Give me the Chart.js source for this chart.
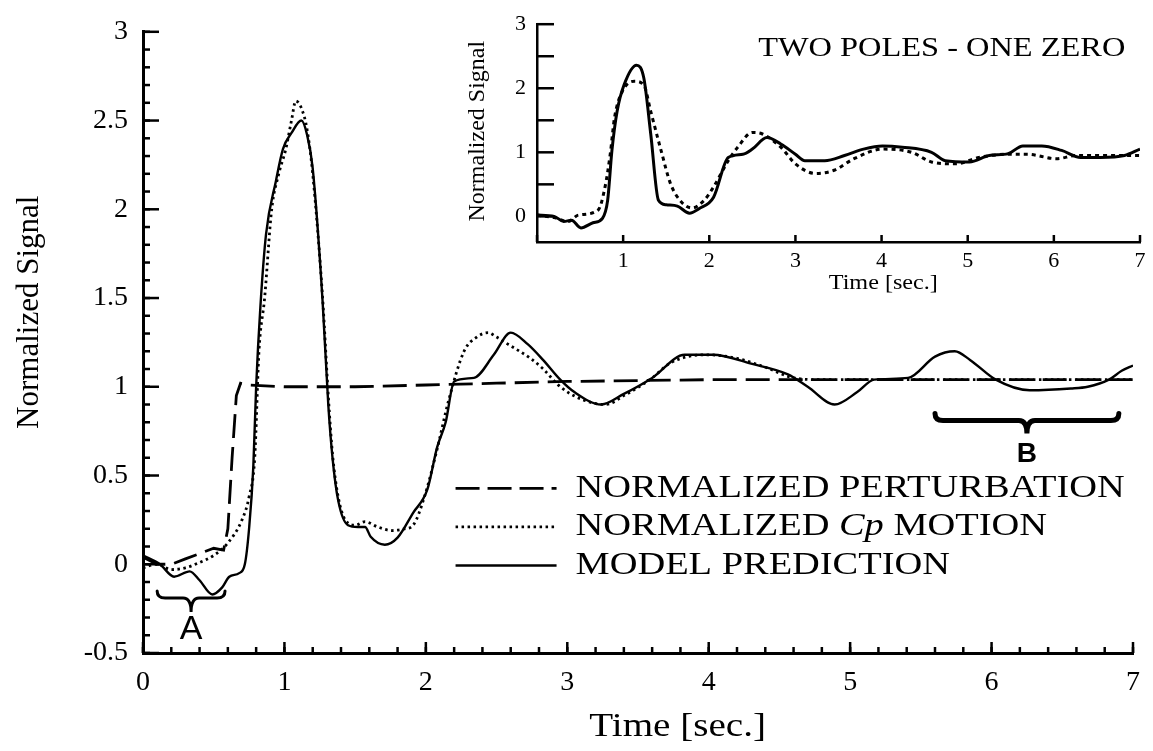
<!DOCTYPE html>
<html>
<head>
<meta charset="utf-8">
<title>Normalized Signal</title>
<script src="https://cdn.jsdelivr.net/npm/chart.js@4.4.0/dist/chart.umd.min.js"></script>
<style>
  html, body { margin: 0; padding: 0; background: #fff; }
  #wrap { position: relative; width: 1153px; height: 751px; }
  #mainChart { position: absolute; left: 0; top: 0; }
  #insetChart { position: absolute; left: 440px; top: 0; }
</style>
</head>
<body>
<div id="wrap">
  <canvas id="mainChart" width="1153" height="751"></canvas>
  <canvas id="insetChart" width="713" height="310"></canvas>
</div>
<script>
// ---- main plot: time [s] and normalized values ----
const perturbT = [0, 0.1, 0.2, 0.3, 0.4, 0.5, 0.57, 0.6, 0.63, 0.66, 0.69, 0.75, 1.0, 1.5, 2.0, 2.5, 3.0, 4.0, 5.0, 6.0, 7.0];
const perturbV = [0.04, 0.0, 0.0, 0.03, 0.06, 0.09, 0.08, 0.2, 0.6, 0.95, 1.02, 1.01, 1.0, 1.0, 1.01, 1.02, 1.03, 1.04, 1.04, 1.04, 1.04];

const cpT = [0, 0.1, 0.2, 0.3, 0.4, 0.5, 0.6, 0.7, 0.75, 0.79, 0.82, 0.86, 0.91, 0.96, 1.01, 1.05, 1.08, 1.12, 1.16, 1.2,
             1.27, 1.31, 1.34, 1.38, 1.43, 1.5, 1.57, 1.66, 1.76, 1.85, 1.91, 1.99, 2.08, 2.16, 2.27, 2.36, 2.44, 2.5, 2.58, 2.74,
             2.83, 2.95, 3.1, 3.27, 3.4, 3.6, 3.72, 3.85, 4.0, 4.2, 4.4, 4.6, 4.8, 5.2, 5.6, 6.0, 6.4, 6.8, 7.0];
const cpV = [-0.02, 0.0, -0.03, -0.02, 0.01, 0.05, 0.12, 0.25, 0.38, 0.6, 1.2, 1.5, 2.0, 2.2, 2.34, 2.5, 2.61, 2.57, 2.45, 2.2,
             1.5, 0.95, 0.62, 0.38, 0.25, 0.22, 0.24, 0.21, 0.19, 0.2, 0.22, 0.38, 0.65, 0.92, 1.2, 1.28, 1.305, 1.28, 1.24, 1.16,
             1.1, 1.0, 0.93, 0.9, 0.95, 1.05, 1.13, 1.17, 1.18, 1.16, 1.11, 1.05, 1.04, 1.04, 1.04, 1.04, 1.04, 1.04, 1.04];

const modelT = [0, 0.12, 0.22, 0.33, 0.4, 0.49, 0.56, 0.61, 0.68, 0.72, 0.75, 0.78, 0.8, 0.83, 0.87, 0.94, 0.99, 1.05, 1.12, 1.16,
                1.2, 1.27, 1.31, 1.34, 1.38, 1.45, 1.52, 1.57, 1.61, 1.71, 1.8, 1.91, 2.01, 2.08, 2.14, 2.2, 2.34, 2.48, 2.6, 2.72,
                2.83, 2.95, 3.05, 3.24, 3.4, 3.6, 3.83, 4.03, 4.3, 4.56, 4.7, 4.89, 5.05, 5.17, 5.41, 5.6, 5.74, 5.85, 6.03, 6.27,
                6.56, 6.68, 6.83, 6.92, 7.0];
const modelV = [0.05, 0.0, -0.07, -0.04, -0.09, -0.17, -0.13, -0.07, -0.05, 0.0, 0.2, 0.55, 1.0, 1.45, 1.86, 2.16, 2.34, 2.43, 2.5, 2.42,
                2.23, 1.48, 0.9, 0.6, 0.36, 0.22, 0.21, 0.21, 0.155, 0.11, 0.15, 0.29, 0.42, 0.66, 0.8, 1.03, 1.05, 1.18, 1.305, 1.24,
                1.15, 1.04, 0.97, 0.9, 0.96, 1.05, 1.18, 1.18, 1.13, 1.07, 1.0, 0.9, 0.97, 1.04, 1.05, 1.17, 1.2, 1.15, 1.04, 0.98,
                0.99, 1.0, 1.04, 1.09, 1.12];

// ---- inset: two poles - one zero ----
const insetCpT = [0, 0.2, 0.36, 0.48, 0.71, 0.79, 0.85, 0.9, 0.99, 1.13, 1.24, 1.32, 1.44, 1.55, 1.66, 1.8, 1.94, 2.05, 2.22, 2.33,
                  2.5, 2.61, 2.83, 3.0, 3.23, 3.45, 3.68, 4.01, 4.35, 4.58, 4.86, 5.13, 5.47, 5.69, 6.03, 6.26, 6.54, 7.0];
const insetCpV = [0.02, -0.02, -0.08, 0.02, 0.1, 0.46, 0.97, 1.54, 1.95, 2.11, 2.05, 1.64, 1.03, 0.51, 0.25, 0.13, 0.25, 0.46, 0.87, 1.08,
                  1.31, 1.29, 1.08, 0.82, 0.67, 0.72, 0.9, 1.05, 1.0, 0.85, 0.82, 0.92, 0.97, 0.97, 0.9, 0.95, 0.95, 0.95];

const insetModelT = [0, 0.2, 0.31, 0.4, 0.51, 0.65, 0.76, 0.82, 0.87, 0.93, 1.01, 1.155, 1.24, 1.32, 1.41, 1.5, 1.63, 1.77, 1.88, 2.05,
                     2.22, 2.39, 2.5, 2.67, 2.83, 3.0, 3.11, 3.34, 3.57, 3.79, 4.01, 4.24, 4.58, 4.74, 5.02, 5.25, 5.47, 5.64, 5.86, 6.09,
                     6.31, 6.54, 6.82, 7.0];
const insetModelV = [0.02, 0.0, -0.08, -0.06, -0.18, -0.1, -0.03, 0.25, 1.03, 1.64, 2.05, 2.36, 2.16, 1.29, 0.25, 0.18, 0.16, 0.05, 0.12, 0.3,
                     0.92, 0.97, 1.05, 1.23, 1.13, 0.97, 0.87, 0.87, 0.95, 1.05, 1.1, 1.08, 1.0, 0.87, 0.85, 0.95, 0.98, 1.1, 1.1, 1.03,
                     0.92, 0.92, 0.95, 1.05];

const legendLabels = ['NORMALIZED PERTURBATION', 'NORMALIZED Cp MOTION', 'MODEL PREDICTION'];

const SERIF = "'Liberation Serif', 'Times New Roman', serif";
const SANS = "'Liberation Sans', Arial, sans-serif";
const pts = (ts, vs) => ts.map((t, i) => ({ x: t, y: vs[i] }));

// inward tick marks, free texts, braces and the in-plot legend
const figureDecor = {
  id: 'figureDecor',
  afterDraw(chart, args, o) {
    const { ctx, chartArea: a, scales: { x, y } } = chart;
    const px = (at, off) => [x.getPixelForValue(at[0]) + (off ? off[0] : 0), y.getPixelForValue(at[1]) + (off ? off[1] : 0)];
    ctx.save();
    ctx.strokeStyle = '#000';
    ctx.fillStyle = '#000';

    // tick marks pointing into the plot
    ctx.lineWidth = o.tickWidth;
    const marks = (scale, step, len, horiz) => {
      for (let i = Math.ceil(scale.min / step - 1e-6); i * step <= scale.max + 1e-6; i++) {
        const p = scale.getPixelForValue(i * step);
        ctx.beginPath();
        if (horiz) { ctx.moveTo(p, a.bottom); ctx.lineTo(p, a.bottom - len); }
        else { ctx.moveTo(a.left, p); ctx.lineTo(a.left + len, p); }
        ctx.stroke();
      }
    };
    o.yMarks.forEach(([step, len]) => marks(y, step, len, false));
    o.xMarks.forEach(([step, len]) => marks(x, step, len, true));

    // texts
    (o.texts || []).forEach(t => {
      const [tx, ty] = px(t.at, t.off);
      ctx.save();
      ctx.font = t.font;
      ctx.textAlign = t.align || 'center';
      ctx.textBaseline = 'middle';
      ctx.translate(tx, ty);
      if (t.rotate) ctx.rotate(t.rotate);
      ctx.scale(t.stretch || 1, 1);
      ctx.fillText(t.text, 0, 0);
      ctx.restore();
    });

    // curly braces
    (o.braces || []).forEach(b => {
      const [x1, yb] = px([b.from, b.at]);
      const [x2] = px([b.to, b.at]);
      const cx = (x1 + x2) / 2, r = 8;
      ctx.save();
      ctx.lineWidth = b.width;
      ctx.lineCap = 'round';
      ctx.setLineDash([]);
      ctx.beginPath();
      ctx.moveTo(x1, yb - b.hook);
      ctx.quadraticCurveTo(x1, yb, x1 + r, yb);
      ctx.lineTo(cx - r, yb);
      ctx.quadraticCurveTo(cx, yb, cx, yb + b.tip);
      ctx.quadraticCurveTo(cx, yb, cx + r, yb);
      ctx.lineTo(x2 - r, yb);
      ctx.quadraticCurveTo(x2, yb, x2, yb - b.hook);
      ctx.stroke();
      ctx.font = b.font;
      ctx.textAlign = 'center';
      ctx.textBaseline = 'middle';
      ctx.fillText(b.letter, cx, y.getPixelForValue(b.letterAt));
      ctx.restore();
    });

    // legend inside the plot
    if (o.legend) {
      const L = o.legend;
      const [lx, ly] = px(L.at);
      chart.data.datasets.forEach((ds, i) => {
        const rowY = ly + i * L.rowGap;
        ctx.save();
        ctx.lineWidth = ds.borderWidth;
        ctx.setLineDash(L.dashes[i]);
        ctx.beginPath();
        ctx.moveTo(lx, rowY);
        ctx.lineTo(lx + L.sampleLen, rowY);
        ctx.stroke();
        ctx.setLineDash([]);
        ctx.translate(lx + L.sampleLen + L.textGap, rowY);
        ctx.scale(L.stretch, 1);
        ctx.textBaseline = 'middle';
        ctx.textAlign = 'left';
        let cur = 0;
        ds.label.split(/(Cp)/).forEach(part => {
          if (!part) return;
          ctx.font = (part === 'Cp' ? 'italic ' : '') + L.size + 'px ' + SERIF;
          ctx.fillText(part, cur, 0);
          cur += ctx.measureText(part).width;
        });
        ctx.restore();
      });
    }
    ctx.restore();
  }
};

const axisBase = (min, max, step, size, pad, cb) => ({
  type: 'linear', min, max,
  ticks: { stepSize: step, padding: pad, color: '#000', font: { family: SERIF, size }, callback: cb },
  grid: { display: false, drawTicks: false },
  border: { display: true, color: '#000', width: 3 }
});

// ---------- main chart ----------
const mainX = axisBase(0, 7, 1, 28, 13, v => v);
mainX.afterFit = s => { s.height = 98; };
const mainY = axisBase(-0.5, 3, 0.5, 28, 15, v => v);
mainY.afterFit = s => { s.width = 143; };

new Chart(document.getElementById('mainChart'), {
  type: 'line',
  data: {
    datasets: [
      { label: legendLabels[0], data: pts(perturbT, perturbV), borderColor: '#000', borderWidth: 2.8, borderDash: [24, 9], tension: 0 },
      { label: legendLabels[1], data: pts(cpT, cpV), borderColor: '#000', borderWidth: 2.8, borderDash: [2.5, 3.5], cubicInterpolationMode: 'monotone' },
      { label: legendLabels[2], data: pts(modelT, modelV), borderColor: '#000', borderWidth: 2.4, cubicInterpolationMode: 'monotone' }
    ]
  },
  options: {
    responsive: false,
    animation: false,
    layout: { padding: { top: 30, right: 13, left: 0, bottom: 0 } },
    elements: { point: { radius: 0 } },
    scales: { x: mainX, y: mainY },
    plugins: {
      legend: { display: false },
      tooltip: { enabled: false },
      figureDecor: {
        tickWidth: 2.5,
        yMarks: [[0.1, 7], [0.5, 16]],
        xMarks: [[0.2, 6], [1, 11]],
        texts: [
          { text: 'Time [sec.]', at: [3.78, -0.5], off: [0, 74], font: '34px ' + SERIF, stretch: 1.15 },
          { text: 'Normalized Signal', at: [0, 1.42], off: [-113, 0], font: '31px ' + SERIF, rotate: -Math.PI / 2 }
        ],
        braces: [
          { from: 0.1, to: 0.58, at: -0.19, hook: 7, tip: 14, width: 3, letter: 'A', letterAt: -0.37, font: '34px ' + SANS },
          { from: 5.6, to: 6.9, at: 0.81, hook: 7, tip: 13, width: 5, letter: 'B', letterAt: 0.62, font: 'bold 28px ' + SANS }
        ],
        legend: { at: [2.21, 0.427], sampleLen: 101, textGap: 19, rowGap: 38.5, size: 32, stretch: 1.2,
                  dashes: [[24, 8], [2.5, 3.5], []] }
      }
    }
  },
  plugins: [figureDecor]
});

// ---------- inset chart ----------
const insetX = axisBase(0, 7, 1, 22, 6, v => (v === 0 ? '' : v));
insetX.afterFit = s => { s.height = 68; };
insetX.border.width = 2.5;
const insetY = axisBase(-0.4, 3, 1, 22, 11, v => (Number.isInteger(v) ? v : ''));
insetY.afterFit = s => { s.width = 97; };
insetY.border.width = 2.5;

new Chart(document.getElementById('insetChart'), {
  type: 'line',
  data: {
    datasets: [
      { label: 'Cp', data: pts(insetCpT, insetCpV), borderColor: '#000', borderWidth: 3, borderDash: [4, 4], cubicInterpolationMode: 'monotone' },
      { label: 'Model', data: pts(insetModelT, insetModelV), borderColor: '#000', borderWidth: 3, cubicInterpolationMode: 'monotone' }
    ]
  },
  options: {
    responsive: false,
    animation: false,
    layout: { padding: { top: 22, right: 13, left: 0, bottom: 0 } },
    elements: { point: { radius: 0 } },
    scales: { x: insetX, y: insetY },
    plugins: {
      legend: { display: false },
      tooltip: { enabled: false },
      figureDecor: {
        tickWidth: 2.5,
        yMarks: [[0.5, 17]],
        xMarks: [[1, 7]],
        texts: [
          { text: 'Time [sec.]', at: [4.02, -0.4], off: [0, 41], font: '21px ' + SERIF, stretch: 1.15 },
          { text: 'Normalized Signal', at: [0, 1.33], off: [-59, 0], font: '24px ' + SERIF, rotate: -Math.PI / 2 },
          { text: 'TWO POLES - ONE ZERO', at: [6.83, 2.62], font: '27px ' + SERIF, align: 'right', stretch: 1.2 }
        ]
      }
    }
  },
  plugins: [figureDecor]
});
</script>
</body>
</html>
